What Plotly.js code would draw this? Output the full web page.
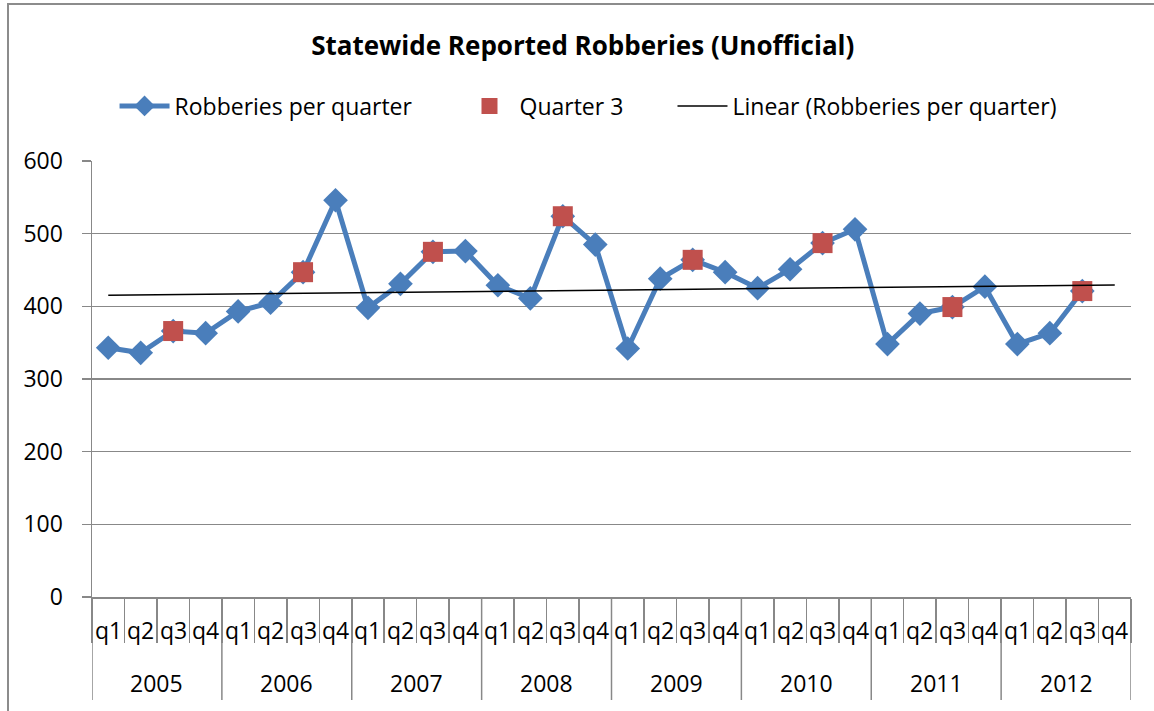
<!DOCTYPE html>
<html>
<head>
<meta charset="utf-8">
<script src="https://cdn.plot.ly/plotly-3.0.1.min.js"></script>
<style>
  html, body { margin: 0; padding: 0; background: #fff; }
  #wrap { position: relative; width: 1154px; height: 711px; overflow: hidden; }
  #chart { position: absolute; left: 0; top: 0; width: 1154px; height: 711px; }
  #frame { position: absolute; left: 7px; top: 3px; width: 1200px; height: 800px;
           border-left: 2px solid #8c8c8c; border-top: 2px solid #8c8c8c; pointer-events: none; }
</style>
</head>
<body>
<div id="wrap"><div id="chart"></div><div id="frame"></div></div>
<script>
// ---- data ----
var years = ["2005", "2006", "2007", "2008", "2009", "2010", "2011", "2012"];
var quarters = ["q1", "q2", "q3", "q4"];
var robberies = [
  343, 336, 366, 363,   // 2005
  393, 405, 447, 546,   // 2006
  398, 431, 475, 476,   // 2007
  429, 411, 524, 485,   // 2008
  342, 438, 464, 447,   // 2009
  425, 451, 487, 506,   // 2010
  348, 390, 399, 427,   // 2011
  348, 363, 421, null   // 2012
];

// ---- category positions (one slot per quarter) ----
var idx = [], qLab = [];
years.forEach(function (y, yi) { quarters.forEach(function (q, qi) { idx.push(yi * quarters.length + qi); qLab.push(q); }); });

// Quarter 3 points taken from the main series
var q3x = [], q3y = [];
idx.forEach(function (k) { if (qLab[k] === "q3" && robberies[k] !== null) { q3x.push(k); q3y.push(robberies[k]); } });

// Linear trendline (least squares over observed points, spanning all categories)
var n = 0, sx = 0, sy = 0, sxx = 0, sxy = 0;
robberies.forEach(function (v, k) { if (v !== null) { n++; sx += k; sy += v; sxx += k * k; sxy += k * v; } });
var slope = (n * sxy - sx * sy) / (n * sxx - sx * sx);
var intercept = (sy - slope * sx) / n;
var trend = idx.map(function (k) { return intercept + slope * k; });

var FONT = "'Open Sans', 'Noto Sans', sans-serif";
var blue = "#4a7ebb", red = "#c0504d", grid = "#888888";
var nCat = idx.length;
var plotH = 711 - 161 - 114;

var traces = [
  {
    type: "scatter", mode: "lines+markers", name: "Robberies per quarter", legend: "legend",
    x: idx, y: robberies,
    line: { color: blue, width: 5 },
    marker: { symbol: "diamond", size: 19, color: blue },
    connectgaps: false
  },
  {
    type: "scatter", mode: "markers", name: "Quarter 3", legend: "legend2",
    x: q3x, y: q3y,
    marker: { symbol: "square", size: 20, color: red, line: { width: 0 } }
  },
  {
    type: "scatter", mode: "lines", name: "Linear (Robberies per quarter)", legend: "legend3",
    x: idx, y: trend,
    line: { color: "#000000", width: 1.5 }
  }
];

// boundaries between quarters (axis ticks) and between years (dividers)
var bounds = [];
for (var b = 0; b <= nCat; b++) bounds.push(b - 0.5);

var shapes = [];
for (var yi = 0; yi <= years.length; yi++) {
  shapes.push({
    type: "line", xref: "x", yref: "paper",
    x0: yi * quarters.length - 0.5, x1: yi * quarters.length - 0.5,
    y0: 0, y1: -103 / plotH,
    line: { color: grid, width: 1.5 }
  });
}

var annotations = [];
idx.forEach(function (k) {
  annotations.push({
    x: k, xref: "x", y: -33 / plotH, yref: "paper", yanchor: "middle", xanchor: "center",
    text: qLab[k], showarrow: false, font: { family: FONT, size: 23, color: "#000" }
  });
});
years.forEach(function (y, yi) {
  annotations.push({
    x: yi * quarters.length + (quarters.length - 1) / 2, xref: "x", y: -86 / plotH, yref: "paper",
    yanchor: "middle", xanchor: "center",
    text: y, showarrow: false, font: { family: FONT, size: 23, color: "#000" }
  });
});

var legendBase = {
  orientation: "h", yanchor: "middle", y: 1 + 55 / plotH, xanchor: "left",
  font: { family: FONT, size: 23, color: "#000000" },
  itemwidth: 50, bgcolor: "rgba(0,0,0,0)", borderwidth: 0
};
function leg(x) { var o = JSON.parse(JSON.stringify(legendBase)); o.x = x; return o; }

var layout = {
  width: 1154, height: 711,
  margin: { l: 92, r: 23, t: 161, b: 114 },
  paper_bgcolor: "#ffffff", plot_bgcolor: "#ffffff",
  font: { family: FONT, size: 23, color: "#000000" },
  title: {
    text: "<b>Statewide Reported Robberies (Unofficial)</b>",
    font: { family: FONT, size: 26, color: "#000000" },
    x: 0.505, xref: "container", xanchor: "center",
    y: 0.935, yref: "container", yanchor: "middle"
  },
  showlegend: true,
  legend: leg(0.0217),
  legend2: leg(0.3537),
  legend3: leg(0.5587),
  xaxis: {
    type: "linear", range: [-0.5, nCat - 0.5],
    showgrid: false, zeroline: false,
    showline: true, linecolor: grid, linewidth: 1.5,
    tickmode: "array", tickvals: bounds, showticklabels: false,
    ticks: "outside", ticklen: 44, tickcolor: grid, tickwidth: 1.5,
    fixedrange: true
  },
  yaxis: {
    range: [0, 600], dtick: 100, tick0: 0,
    showgrid: true, gridcolor: grid, gridwidth: 1.5,
    showline: true, linecolor: grid, linewidth: 1.5,
    ticks: "outside", ticklen: 9, tickcolor: grid, tickwidth: 1.5,
    ticklabelstandoff: 14,
    tickfont: { family: FONT, size: 23, color: "#000000" },
    zeroline: false, fixedrange: true
  },
  shapes: shapes,
  annotations: annotations
};

Plotly.newPlot("chart", traces, layout, { displayModeBar: false, staticPlot: true });
</script>
</body>
</html>
